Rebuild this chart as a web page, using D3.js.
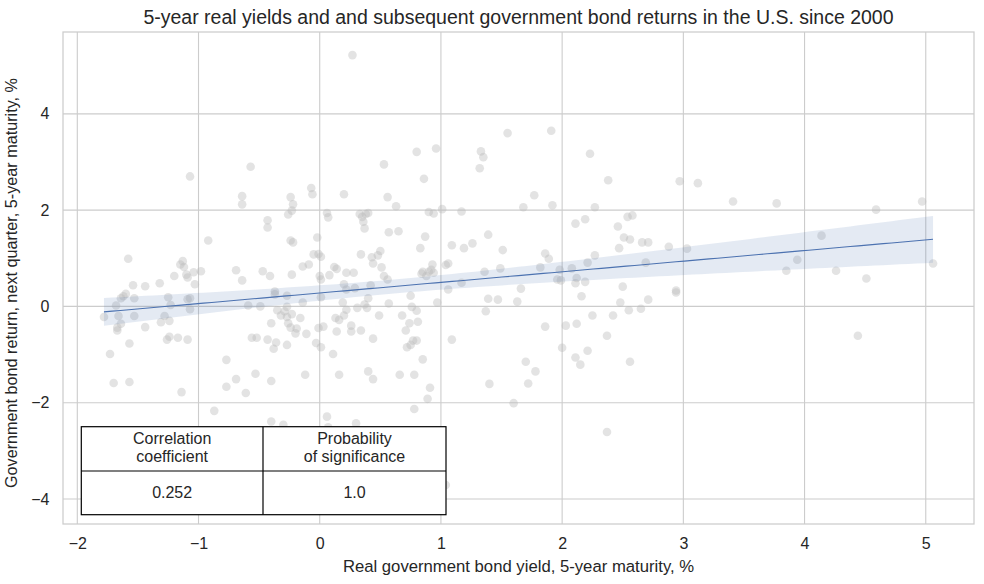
<!DOCTYPE html>
<html><head><meta charset="utf-8">
<script src="https://cdn.jsdelivr.net/npm/d3@7"></script>
<style>
body{margin:0;background:#fff;}
text{font-family:"Liberation Sans",Arial,sans-serif;fill:#262626;}
</style></head>
<body><svg id="c" width="984" height="584"></svg>
<script>
const title = "5-year real yields and and subsequent government bond returns in the U.S. since 2000";
const xLabel = "Real government bond yield, 5-year maturity, %";
const yLabel = "Government bond return, next quarter, 5-year maturity, %";
const xTicks = [-2,-1,0,1,2,3,4,5];
const yTicks = [-4,-2,0,2,4];
const tableHeaders = [["Correlation","coefficient"],["Probability","of significance"]];
const tableValues = ["0.252","1.0"];
// real yield (x) and next-quarter return (y)
const realYield = [-1.07,-0.57,-0.64,-0.64,-0.24,-0.22,-0.23,-0.26,-0.07,-0.06,0.06,0.07,-0.43,-0.43,-0.92,-0.24,-0.22,-0.02,-1.58,-1.13,
-1.15,-1.12,-0.69,-0.64,-0.47,-0.41,-0.23,-0.14,-0.09,-0.05,-0.01,0.01,0.00,0.01,0.08,0.12,-1.20,-1.10,-1.09,-1.04,
-0.98,-1.03,-1.32,-1.44,-1.54,-1.60,-1.62,-1.64,-1.53,-1.68,-1.78,-1.66,-1.53,-1.25,-1.23,-1.28,-1.31,-1.24,-1.44,-1.64,
-1.67,-1.09,-1.07,-1.07,-0.59,-0.49,-0.37,-0.37,-0.27,-0.14,0.01,-0.35,-0.27,-0.32,-0.27,-0.23,-0.16,-0.26,-0.24,-0.19,
-0.40,-0.01,0.03,-1.67,-0.29,-1.73,-1.57,-1.26,-1.24,-1.17,-1.09,-1.70,-1.57,-1.14,-0.77,-0.69,-0.77,-0.61,-0.53,-0.40,
-0.12,-0.87,-0.40,-0.30,0.06,-0.56,-0.52,-0.43,-0.36,-0.38,-0.27,-0.20,-0.11,-0.03,0.01,0.27,0.20,0.53,0.80,0.96,
0.86,0.56,0.63,0.33,0.35,0.38,0.40,0.36,0.37,0.57,0.65,0.50,0.83,0.87,0.90,0.94,1.01,1.17,1.09,1.19,
1.26,1.33,1.35,1.32,0.14,0.22,0.28,0.34,0.43,0.48,0.44,0.51,0.53,0.56,0.20,0.22,0.29,0.42,0.40,0.19,
0.31,0.37,0.39,0.57,0.75,0.84,0.85,0.88,0.90,0.92,0.93,0.94,1.04,1.06,1.06,1.17,0.97,0.11,0.13,0.16,
0.20,0.22,0.14,0.26,0.26,0.34,0.44,0.49,0.68,0.76,0.80,0.71,0.74,0.81,0.72,0.75,0.77,0.80,0.85,1.09,
0.16,0.40,0.44,0.66,0.78,0.91,0.89,0.78,0.07,0.30,1.40,1.72,1.60,2.37,1.04,1.55,1.91,2.23,2.38,2.97,
3.12,1.77,1.68,1.92,2.27,2.11,2.19,2.46,2.54,2.58,2.51,2.56,2.47,2.27,2.66,2.71,2.88,3.03,2.69,1.39,
1.51,1.86,1.89,1.36,1.49,1.82,1.98,2.08,2.21,1.96,1.99,2.12,2.11,2.19,1.66,2.50,2.16,1.39,1.47,1.63,
2.48,2.55,2.65,2.71,2.94,2.94,1.37,2.25,2.42,2.12,2.03,1.86,2.37,2.00,2.11,2.15,2.21,2.56,1.70,1.78,
3.41,3.77,4.59,4.97,4.14,3.94,3.85,4.26,4.51,5.06,4.44];
const nextReturn = [2.70,2.90,2.29,2.12,2.27,2.12,1.99,1.91,2.46,2.33,1.94,1.85,1.79,1.64,1.37,1.37,1.33,1.43,0.99,0.94,
0.87,0.82,0.75,0.54,0.73,0.63,0.66,0.83,0.87,1.08,1.09,1.03,0.63,0.56,0.65,0.82,0.63,0.66,0.60,0.71,
0.73,0.46,0.48,0.42,0.44,0.26,0.21,0.17,0.17,0.02,-0.22,-0.20,-0.20,0.19,0.03,-0.20,-0.33,-0.30,-0.43,-0.36,
-0.44,0.15,0.17,-0.06,0.02,0.00,0.31,0.25,0.22,0.08,0.19,-0.08,-0.01,-0.19,-0.22,-0.16,-0.24,-0.35,-0.44,-0.46,
-0.35,-0.45,-0.42,-0.50,-0.10,-0.99,-0.77,-0.69,-0.63,-0.65,-0.69,-1.59,-1.57,-1.78,-1.11,-1.51,-1.67,-1.80,-1.40,-1.55,
-1.42,-2.17,-2.39,-2.46,-2.29,-0.65,-0.65,-0.69,-0.75,-0.88,-0.80,-0.56,-0.57,-0.76,-0.85,5.22,2.33,2.95,3.21,3.28,
2.65,2.27,2.08,1.92,1.86,1.92,1.94,1.76,1.62,1.54,1.56,1.15,1.21,1.45,1.96,1.93,2.02,1.97,1.27,1.21,
1.31,3.22,3.10,2.87,0.78,0.70,0.70,1.08,1.02,1.06,0.89,0.81,0.63,0.56,0.46,0.35,0.38,0.44,0.17,0.08,
-0.03,0.04,-0.03,0.06,0.22,0.68,0.72,0.63,0.72,0.76,0.87,0.70,0.86,0.89,0.35,0.49,0.08,-0.99,-0.24,-0.28,
-0.19,-0.07,-0.52,-0.40,-0.52,-0.50,-0.67,-0.19,-0.19,-0.01,-0.09,-0.50,-0.35,-0.32,-0.85,-0.80,-0.71,-0.71,-1.10,-0.69,
-1.42,-1.35,-1.51,-1.42,-1.42,-1.69,-1.92,-2.13,-2.51,-2.43,-1.61,-1.60,-2.01,-2.61,-3.71,3.60,3.65,3.17,2.62,2.60,
2.56,2.31,2.06,2.10,2.06,1.72,1.81,1.66,1.86,1.89,1.43,1.39,1.21,1.06,1.33,1.33,1.24,1.20,0.91,1.49,
1.17,1.10,0.99,0.72,0.79,0.81,0.76,0.79,0.91,0.56,0.54,0.59,0.48,0.51,0.37,0.41,0.21,0.16,0.14,0.10,
0.08,-0.08,-0.05,0.14,0.33,0.29,-0.10,-0.19,-0.19,-0.36,-0.40,-0.42,-0.61,-0.86,-1.06,-1.21,-0.92,-1.15,-1.15,-1.35,
2.18,2.14,2.01,2.18,1.47,0.97,0.74,0.74,0.58,0.89,-0.61];

const svg = d3.select("#c");
const L=63,R=974,T=32,B=524;
const x = d3.scaleLinear().domain([-2.118,5.398]).range([L,R]);
const y = d3.scaleLinear().domain([-4.52,5.70]).range([B,T]);
const fmt = d3.format("d");

// grid
svg.append("g").selectAll("line").data(xTicks).join("line")
  .attr("x1",d=>x(d)).attr("x2",d=>x(d)).attr("y1",T).attr("y2",B)
  .attr("stroke","#cccccc").attr("stroke-width",1.1);
svg.append("g").selectAll("line").data(yTicks).join("line")
  .attr("y1",d=>y(d)).attr("y2",d=>y(d)).attr("x1",L).attr("x2",R)
  .attr("stroke","#cccccc").attr("stroke-width",1.1);

// axes
const xa = svg.append("g").attr("transform",`translate(0,${B})`)
  .call(d3.axisBottom(x).tickValues(xTicks).tickFormat(fmt).tickSize(0).tickPadding(14));
const ya = svg.append("g").attr("transform",`translate(${L},0)`)
  .call(d3.axisLeft(y).tickValues(yTicks).tickFormat(fmt).tickSize(0).tickPadding(13.5));
[xa,ya].forEach(a=>{a.select(".domain").remove();
  a.selectAll("text").style("font-size","16px").attr("fill","#262626").style("font-family","'Liberation Sans',Arial,sans-serif");});

// points
const pts = realYield.map((v,i)=>({x:v,y:nextReturn[i]}));
svg.append("g").selectAll("circle").data(pts).join("circle")
  .attr("cx",d=>x(d.x)).attr("cy",d=>y(d.y)).attr("r",4.3)
  .attr("fill","#b8b8b8").attr("fill-opacity",0.4);

// regression with 95% CI
const n=pts.length, mx=d3.mean(realYield), my=d3.mean(nextReturn);
let sxx=0,sxy=0; pts.forEach(p=>{sxx+=(p.x-mx)**2; sxy+=(p.x-mx)*(p.y-my);});
const b=sxy/sxx, a=my-b*mx;
let sse=0; pts.forEach(p=>{sse+=(p.y-a-b*p.x)**2;});
const se=Math.sqrt(sse/(n-2));
const [x0,x1]=d3.extent(realYield);
const grid=d3.range(0,101).map(i=>x0+(x1-x0)*i/100);
const band=grid.map(g=>{const h=1.97*se*Math.sqrt(1/n+(g-mx)**2/sxx);const m=a+b*g;return {g,lo:m-h,hi:m+h,m};});
svg.append("path").datum(band)
  .attr("d",d3.area().x(d=>x(d.g)).y0(d=>y(d.lo)).y1(d=>y(d.hi)))
  .attr("fill","#4c72b0").attr("fill-opacity",0.15);
svg.append("path").datum(band)
  .attr("d",d3.line().x(d=>x(d.g)).y(d=>y(d.m)))
  .attr("fill","none").attr("stroke","#4c72b0").attr("stroke-width",1.1);

// spines
svg.append("rect").attr("x",L).attr("y",T).attr("width",R-L).attr("height",B-T)
  .attr("fill","none").attr("stroke","#cccccc").attr("stroke-width",1.25);

// table
const tL=81.3,tR=446,tT=426.7,tM=471,tB=514.7,tC=263;
const tg=svg.append("g");
tg.append("rect").attr("x",tL).attr("y",tT).attr("width",tR-tL).attr("height",tB-tT)
  .attr("fill","#fff").attr("stroke","#000").attr("stroke-width",1.2);
tg.append("line").attr("x1",tL).attr("x2",tR).attr("y1",tM).attr("y2",tM).attr("stroke","#000").attr("stroke-width",1.2);
tg.append("line").attr("x1",tC).attr("x2",tC).attr("y1",tT).attr("y2",tB).attr("stroke","#000").attr("stroke-width",1.2);
const cx=[(tL+tC)/2,(tC+tR)/2];
tableHeaders.forEach((h,i)=>{
  h.forEach((line,j)=>tg.append("text").attr("x",cx[i]).attr("y",444+j*18)
    .attr("text-anchor","middle").style("font-size","16px").text(line));
});
tableValues.forEach((v,i)=>tg.append("text").attr("x",cx[i]).attr("y",497.5)
  .attr("text-anchor","middle").style("font-size","16px").text(v));

// titles
svg.append("text").attr("x",(L+R)/2).attr("y",24).attr("text-anchor","middle")
  .style("font-size","19.5px").text(title);
svg.append("text").attr("x",(L+R)/2).attr("y",571.5).attr("text-anchor","middle")
  .style("font-size","16.7px").text(xLabel);
svg.append("text").attr("transform",`translate(17,${(T+B)/2+5}) rotate(-90)`).attr("text-anchor","middle")
  .style("font-size","16.2px").text(yLabel);
</script></body></html>
